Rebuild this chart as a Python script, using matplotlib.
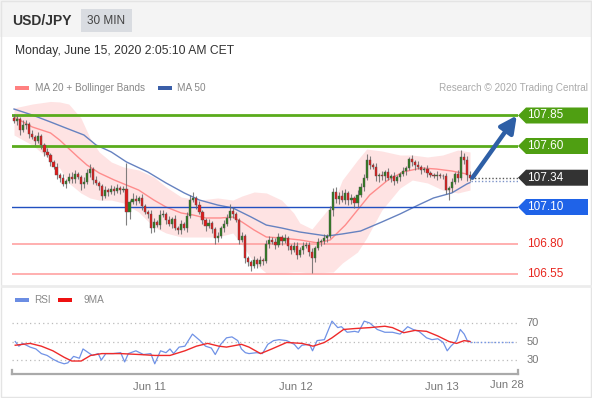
import matplotlib
matplotlib.use("Agg")
import matplotlib.pyplot as plt
from matplotlib.patches import Rectangle, Polygon
from matplotlib.lines import Line2D
import matplotlib.transforms as mtransforms

plt.rcParams["font.family"] = ["Liberation Sans", "DejaVu Sans"]

W, H = 592, 398

# 30 min candles, USD/JPY (open of each bar = previous close)
FIRST_OPEN = 107.830
closes = [
    107.805, 107.821, 107.731, 107.772, 107.780, 107.698, 107.674, 107.641, 107.682, 107.608,
    107.551, 107.526, 107.469, 107.428, 107.362, 107.338, 107.289, 107.313, 107.346, 107.330,
    107.370, 107.346, 107.289, 107.305, 107.379, 107.411, 107.321, 107.297, 107.272, 107.190,
    107.239, 107.223, 107.248, 107.231, 107.256, 107.239, 107.248, 107.059, 107.141, 107.166,
    107.149, 107.174, 107.108, 107.059, 107.043, 106.928, 106.977, 106.952, 107.034, 107.043,
    106.993, 106.961, 107.002, 106.928, 106.911, 106.961, 106.928, 107.026, 107.157, 107.174,
    107.116, 107.059, 106.993, 106.944, 106.969, 106.920, 106.846, 106.862, 106.928, 106.961,
    107.010, 107.067, 107.043, 106.993, 106.830, 106.862, 106.682, 106.649, 106.616, 106.666,
    106.633, 106.666, 106.657, 106.797, 106.830, 106.813, 106.789, 106.854, 106.821, 106.846,
    106.780, 106.748, 106.780, 106.707, 106.748, 106.780, 106.789, 106.731, 106.682, 106.764,
    106.813, 106.820, 106.846, 106.862, 107.075, 107.223, 107.166, 107.190, 107.157, 107.215,
    107.157, 107.174, 107.133, 107.198, 107.264, 107.338, 107.485, 107.444, 107.428, 107.354,
    107.362, 107.354, 107.387, 107.338, 107.354, 107.313, 107.346, 107.370, 107.395, 107.420,
    107.493, 107.469, 107.444, 107.428, 107.403, 107.411, 107.379, 107.362, 107.354, 107.362,
    107.354, 107.350, 107.239, 107.256, 107.305, 107.370, 107.338, 107.510, 107.485, 107.362,
    107.340,
]
upper_wick = [
    0.03, 0.03, 0.02, 0.04, 0.03, 0.02, 0.03, 0.02, 0.03, 0.02,
    0.02, 0.03, 0.02, 0.02, 0.03, 0.02, 0.03, 0.02, 0.03, 0.04,
    0.03, 0.02, 0.02, 0.04, 0.03, 0.04, 0.02, 0.03, 0.02, 0.02,
    0.03, 0.02, 0.03, 0.02, 0.03, 0.02, 0.02, 0.21, 0.02, 0.05,
    0.03, 0.02, 0.03, 0.02, 0.02, 0.03, 0.03, 0.02, 0.04, 0.03,
    0.02, 0.03, 0.02, 0.03, 0.02, 0.03, 0.02, 0.03, 0.04, 0.05,
    0.02, 0.03, 0.02, 0.02, 0.03, 0.02, 0.02, 0.03, 0.02, 0.03,
    0.03, 0.06, 0.03, 0.02, 0.02, 0.03, 0.02, 0.02, 0.02, 0.03,
    0.02, 0.03, 0.02, 0.03, 0.03, 0.02, 0.03, 0.03, 0.02, 0.03,
    0.02, 0.02, 0.03, 0.03, 0.02, 0.03, 0.02, 0.02, 0.03, 0.02,
    0.03, 0.02, 0.03, 0.02, 0.03, 0.03, 0.04, 0.03, 0.05, 0.03,
    0.02, 0.03, 0.02, 0.04, 0.03, 0.03, 0.05, 0.03, 0.02, 0.03,
    0.02, 0.03, 0.02, 0.03, 0.02, 0.03, 0.02, 0.02, 0.03, 0.02,
    0.02, 0.03, 0.02, 0.03, 0.02, 0.02, 0.03, 0.02, 0.02, 0.03,
    0.02, 0.02, 0.03, 0.02, 0.03, 0.02, 0.03, 0.06, 0.03, 0.03,
    0.03,
]
lower_wick = [
    0.02, 0.03, 0.04, 0.02, 0.03, 0.03, 0.02, 0.03, 0.02, 0.03,
    0.03, 0.02, 0.03, 0.02, 0.03, 0.03, 0.02, 0.03, 0.02, 0.03,
    0.03, 0.02, 0.05, 0.03, 0.02, 0.03, 0.03, 0.02, 0.03, 0.03,
    0.02, 0.03, 0.02, 0.03, 0.02, 0.03, 0.02, 0.11, 0.06, 0.02,
    0.03, 0.02, 0.03, 0.02, 0.03, 0.04, 0.03, 0.02, 0.03, 0.02,
    0.03, 0.02, 0.03, 0.02, 0.03, 0.03, 0.02, 0.03, 0.02, 0.02,
    0.03, 0.02, 0.03, 0.04, 0.02, 0.03, 0.05, 0.03, 0.02, 0.03,
    0.02, 0.02, 0.03, 0.02, 0.03, 0.02, 0.04, 0.03, 0.04, 0.02,
    0.03, 0.02, 0.03, 0.02, 0.03, 0.02, 0.03, 0.02, 0.03, 0.02,
    0.03, 0.03, 0.02, 0.03, 0.02, 0.03, 0.02, 0.03, 0.12, 0.03,
    0.02, 0.03, 0.02, 0.03, 0.02, 0.05, 0.03, 0.04, 0.02, 0.03,
    0.04, 0.03, 0.04, 0.03, 0.02, 0.03, 0.02, 0.03, 0.02, 0.04,
    0.05, 0.03, 0.04, 0.02, 0.03, 0.03, 0.02, 0.03, 0.02, 0.03,
    0.02, 0.03, 0.04, 0.02, 0.03, 0.02, 0.03, 0.02, 0.02, 0.03,
    0.02, 0.02, 0.03, 0.08, 0.03, 0.02, 0.03, 0.02, 0.03, 0.05,
    0.03,
]

# indicators, sampled along the bar index
ma50_idx = [0, 6, 12, 17, 23, 27, 32, 37, 44, 50, 56, 61, 67, 72, 78, 83, 88, 94,
            103, 108, 114, 121, 127, 133, 138, 144, 149, 150]
ma50 = [107.903, 107.854, 107.797, 107.748, 107.690, 107.608, 107.551, 107.469, 107.387,
        107.297, 107.215, 107.157, 107.116, 107.092, 107.018, 106.952, 106.928, 106.895,
        106.862, 106.879, 106.903, 106.977, 107.043, 107.116, 107.174, 107.215, 107.289,
        107.300]
ma20_idx = [0, 6, 12, 15, 21, 24, 28, 33, 37, 41, 46, 50, 55, 59, 63, 68, 72, 75, 79,
            83, 88, 94, 100, 104, 109, 113, 117, 123, 128, 134, 139, 144, 149]
ma20 = [107.838, 107.756, 107.707, 107.649, 107.510, 107.444, 107.379, 107.321, 107.280,
        107.239, 107.157, 107.100, 107.051, 107.034, 107.010, 107.010, 107.018, 106.977,
        106.911, 106.854, 106.846, 106.830, 106.805, 106.830, 106.952, 107.075, 107.198,
        107.321, 107.387, 107.420, 107.411, 107.395, 107.370]
bb_idx = [0, 6, 12, 15, 18, 22, 25, 28, 32, 36, 41, 46, 50, 55, 61, 67, 72, 75, 79, 83,
          88, 92, 94, 98, 105, 108, 113, 116, 121, 127, 131, 136, 141, 146, 150]
bb_upper = [107.912, 107.944, 107.965, 107.961, 107.944, 107.830, 107.666, 107.551, 107.469,
            107.428, 107.403, 107.346, 107.264, 107.182, 107.157, 107.174, 107.157, 107.190,
            107.223, 107.215, 107.157, 107.051, 106.969, 106.920, 107.133, 107.321, 107.485,
            107.575, 107.559, 107.526, 107.526, 107.510, 107.526, 107.567, 107.551]
bb_lower = [107.690, 107.608, 107.485, 107.420, 107.297, 107.215, 107.174, 107.157, 107.157,
            107.133, 107.059, 106.936, 106.887, 106.854, 106.854, 106.854, 106.887, 106.789,
            106.641, 106.559, 106.559, 106.567, 106.567, 106.559, 106.567, 106.641, 106.731,
            106.846, 107.075, 107.256, 107.321, 107.297, 107.239, 107.215, 107.239]

rsi_idx = [0.4, 1.6, 2.8, 4.1, 5.3, 7.2, 9.0, 10.9, 12.8, 14.6, 16.5, 17.7, 19.6, 21.5,
           22.7, 25.8, 27.7, 28.7, 30.2, 32.6, 35.1, 36.4, 37.6, 40.1, 42.6, 45.0, 46.3,
           48.2, 50.0, 51.3, 52.5, 54.3, 56.2, 58.7, 61.2, 63.0, 64.9, 66.2, 68.0, 69.9,
           71.7, 73.6, 74.8, 76.1, 77.3, 79.8, 81.7, 83.5, 85.4, 87.2, 89.7, 92.2, 93.5,
           94.7, 97.2, 98.2, 99.7, 102.1, 104.6, 106.5, 107.7, 109.6, 112.1, 113.3, 115.2,
           117.0, 119.5, 122.0, 124.5, 127.0, 129.5, 131.3, 133.2, 135.7, 137.5, 139.4,
           141.2, 142.5, 143.7, 145.6, 146.8, 148.1, 149.1, 150.0]
rsi = [50, 45, 48, 46, 44, 42, 37, 35, 31, 28, 26, 27, 34, 32, 42, 35, 37, 30, 37, 37,
       38, 28, 37, 40, 36, 37, 26, 40, 38, 42, 37, 44, 45, 58, 51, 45, 43, 36, 47, 54,
       55, 51, 42, 38, 37, 38, 37, 47, 51, 52, 51, 47, 42, 46, 47, 40, 51, 52, 72, 65,
       66, 60, 61, 60, 72, 70, 63, 60, 60, 58, 66, 63, 61, 54, 52, 53, 49, 40, 45, 51,
       63, 58, 51, 50]
rsi_ma_idx = [0.4, 5.3, 9.0, 12.8, 16.5, 19.0, 22.1, 25.2, 28.9, 35.1, 41.3, 46.3, 51.3,
              56.2, 60.0, 63.7, 67.4, 69.9, 74.8, 77.3, 81.1, 84.8, 89.7, 94.7, 98.4,
              102.1, 104.6, 108.4, 112.1, 117.0, 122.0, 124.5, 128.2, 131.9, 135.7, 139.4,
              143.1, 145.6, 148.1, 150.0]
rsi_ma = [46, 48, 45, 40, 33, 29, 29, 35, 37, 37, 36, 35, 35, 40, 45, 48, 45, 44, 47, 44,
          37, 42, 49, 48, 45, 49, 54, 63, 64, 65, 66.5, 65, 59.5, 62, 61, 56, 50, 48, 51, 50]

# support / resistance levels
levels = [107.85, 107.60, 107.34, 107.10, 106.80, 106.55]
level_kind = ["res", "res", "last", "sup", "pivot", "pivot"]

day_ticks = [44.7, 92.8, 140.8]
day_labels = ["Jun 11", "Jun 12", "Jun 13"]
end_label = "Jun 28"
rsi_levels = [70, 50, 30]

GREEN = "#4f9f12"
BLUE = "#1f63e8"
DARK = "#333333"
RED_TXT = "#e8261e"


def rect(x0, y0, x1, y1):
    # pixel box (top-left origin) -> figure fraction
    return [x0 / W, 1 - y1 / H, (x1 - x0) / W, (y1 - y0) / H]


def fx(x):
    return x / W


def fy(y):
    return 1 - y / H


fig = plt.figure(figsize=(W / 100, H / 100), dpi=100)
fig.patch.set_facecolor("white")

# header strip and frame
fig.patches.append(Rectangle((0, fy(37)), 1, 37 / H, transform=fig.transFigure,
                             facecolor="#f4f4f4", edgecolor="none", zorder=0))
fig.patches.append(Rectangle((fx(81), fy(32)), 51 / W, 23 / H, transform=fig.transFigure,
                             facecolor="#d9dce1", edgecolor="none", zorder=1))
fig.patches.append(Rectangle((fx(1), fy(397)), 590 / W, 396 / H, transform=fig.transFigure,
                             facecolor="none", edgecolor="#e4e4e4", lw=1, zorder=1))
fig.lines.append(Line2D([fx(2), fx(590)], [fy(286), fy(286)], transform=fig.transFigure,
                        color="#ececec", lw=2))

fig.text(fx(12), fy(21), "USD/JPY", fontsize=10, fontweight="bold", color="#333333",
         va="center")
fig.text(fx(106.5), fy(21), "30 MIN", fontsize=8.5, color="#444444", va="center", ha="center")
fig.text(fx(15), fy(51), "Monday, June 15, 2020 2:05:10 AM CET", fontsize=8.7, color="#333333",
         va="center")

# legends
fig.patches.append(Rectangle((fx(15), fy(90)), 14 / W, 4 / H, transform=fig.transFigure,
                             facecolor="#ff8080", edgecolor="none"))
fig.text(fx(35), fy(88), "MA 20 + Bollinger Bands", fontsize=7.2, color="#888888", va="center")
fig.patches.append(Rectangle((fx(158), fy(90)), 14 / W, 4 / H, transform=fig.transFigure,
                             facecolor="#3a5ea8", edgecolor="none"))
fig.text(fx(177), fy(88), "MA 50", fontsize=7.2, color="#888888", va="center")
fig.text(fx(588), fy(88), "Research \u00a9 2020 Trading Central", fontsize=7.2,
         color="#aaaaaa", va="center", ha="right")

fig.patches.append(Rectangle((fx(15), fy(302)), 14 / W, 4 / H, transform=fig.transFigure,
                             facecolor="#6b8de3", edgecolor="none"))
fig.text(fx(34), fy(300), "RSI", fontsize=7.2, color="#888888", va="center")
fig.patches.append(Rectangle((fx(58), fy(302)), 14 / W, 4 / H, transform=fig.transFigure,
                             facecolor="#ee1111", edgecolor="none"))
fig.text(fx(83), fy(300), "9MA", fontsize=7.2, color="#888888", va="center")

# ---- price panel ----
ax = fig.add_axes(rect(12, 97, 518, 283))
xlim = (-0.66, 165.79)
ax.set_xlim(*xlim)
ax.set_ylim(106.477, 108.0016)
ax.axis("off")

ax.fill_between(bb_idx, bb_lower, bb_upper, color="#fee3e3", lw=0, zorder=1)
ax.plot(ma20_idx, ma20, color="#ff8c8c", lw=1, zorder=2)
ax.plot(ma50_idx, ma50, color="#6682c0", lw=1, zorder=2)

opens = [FIRST_OPEN] + closes[:-1]
idx = list(range(len(closes)))
highs = [max(o, c) + u for o, c, u in zip(opens, closes, upper_wick)]
lows = [min(o, c) - d for o, c, d in zip(opens, closes, lower_wick)]
ax.vlines(idx, lows, highs, color="#6a6a6a", lw=0.8, alpha=0.85, zorder=3)
bottoms = [min(o, c) for o, c in zip(opens, closes)]
heights = [max(abs(c - o), 0.004) for o, c in zip(opens, closes)]
colors = ["#2f7d1f" if c >= o else "#e01b1b" for o, c in zip(opens, closes)]
ax.bar(idx, heights, bottom=bottoms, width=0.72, color=colors, edgecolor="#555555",
       lw=0.3, zorder=4)

# horizontal levels + tags on the right
tag = mtransforms.blended_transform_factory(fig.transFigure, ax.transData)
half = 8 / 122
for lev, kind in zip(levels, level_kind):
    if kind == "res":
        ax.axhline(lev, color="#5aab1c", lw=2, zorder=2)
        box = GREEN
    elif kind == "sup":
        ax.axhline(lev, color="#2150c0", lw=1, zorder=2)
        box = BLUE
    elif kind == "pivot":
        ax.axhline(lev, color="#ff9a9a", lw=1.1, zorder=2)
        box = None
    else:
        ax.plot([150.4, 165.8], [lev, lev], color="#555555", lw=1, ls=(0, (1, 1.5)), zorder=2)
        ax.plot([150.4, 165.8], [lev - 0.03, lev - 0.03], color="#7c93c8", lw=1,
                ls=(0, (1, 1.5)), zorder=2)
        box = DARK
    if box is None:
        ax.text(fx(527), lev, f"{lev:.2f}", transform=tag, color=RED_TXT, fontsize=8.5,
                va="center", ha="left", clip_on=False)
    else:
        pts = [(fx(518), lev), (fx(526), lev + half), (fx(588), lev + half),
               (fx(588), lev - half), (fx(526), lev - half)]
        ax.add_patch(Polygon(pts, closed=True, transform=tag, facecolor=box,
                             edgecolor="none", clip_on=False, zorder=5))
        ax.text(fx(527), lev, f"{lev:.2f}", transform=tag, color="white", fontsize=8.5,
                va="center", ha="left", clip_on=False, zorder=6)

ax.annotate("", xy=(165.4, levels[0]), xytext=(150.8, levels[2]),
            arrowprops=dict(arrowstyle="-|>,head_length=1.0,head_width=0.5",
                            color="#2e5fa6", lw=3.2, shrinkA=0, shrinkB=0),
            zorder=6, annotation_clip=False)

# ---- RSI panel ----
rx = fig.add_axes(rect(12, 310, 518, 374))
rx.set_xlim(*xlim)
rx.set_ylim(15, 84)
for s in ["top", "right", "left"]:
    rx.spines[s].set_visible(False)
rx.spines["bottom"].set_color("#aaaaaa")
rx.spines["bottom"].set_linewidth(1.6)
rx.set_yticks([])
for lv in rsi_levels:
    rx.axhline(lv, color="#bbbbbb", lw=0.9, ls=(0, (1, 2.5)), zorder=1)
    rx.text(fx(533), lv, str(lv), transform=mtransforms.blended_transform_factory(
        fig.transFigure, rx.transData), fontsize=8, color="#777777", va="center",
        ha="center", clip_on=False)
rx.plot(rsi_idx, rsi, color="#7092e6", lw=0.9, zorder=3)
rx.plot([rsi_idx[-1], 164.8], [rsi[-1], rsi[-1]], color="#7092e6", lw=1,
        ls=(0, (1, 1.5)), zorder=3)
rx.plot(rsi_ma_idx, rsi_ma, color="#ee2a2a", lw=1, zorder=4)
rx.set_xticks(day_ticks)
rx.set_xticklabels(day_labels)
rx.tick_params(axis="x", length=0, pad=6, labelsize=8, labelcolor="#777777")
rx.text(162.2, -0.1, end_label, transform=mtransforms.blended_transform_factory(
    rx.transData, rx.transAxes), fontsize=8, color="#777777", ha="center", va="top")
for xe in xlim:
    rx.plot([xe, xe], [15, 19], color="#aaaaaa", lw=1.6, clip_on=False)

fig.savefig("out.png", dpi=100, facecolor="white")
